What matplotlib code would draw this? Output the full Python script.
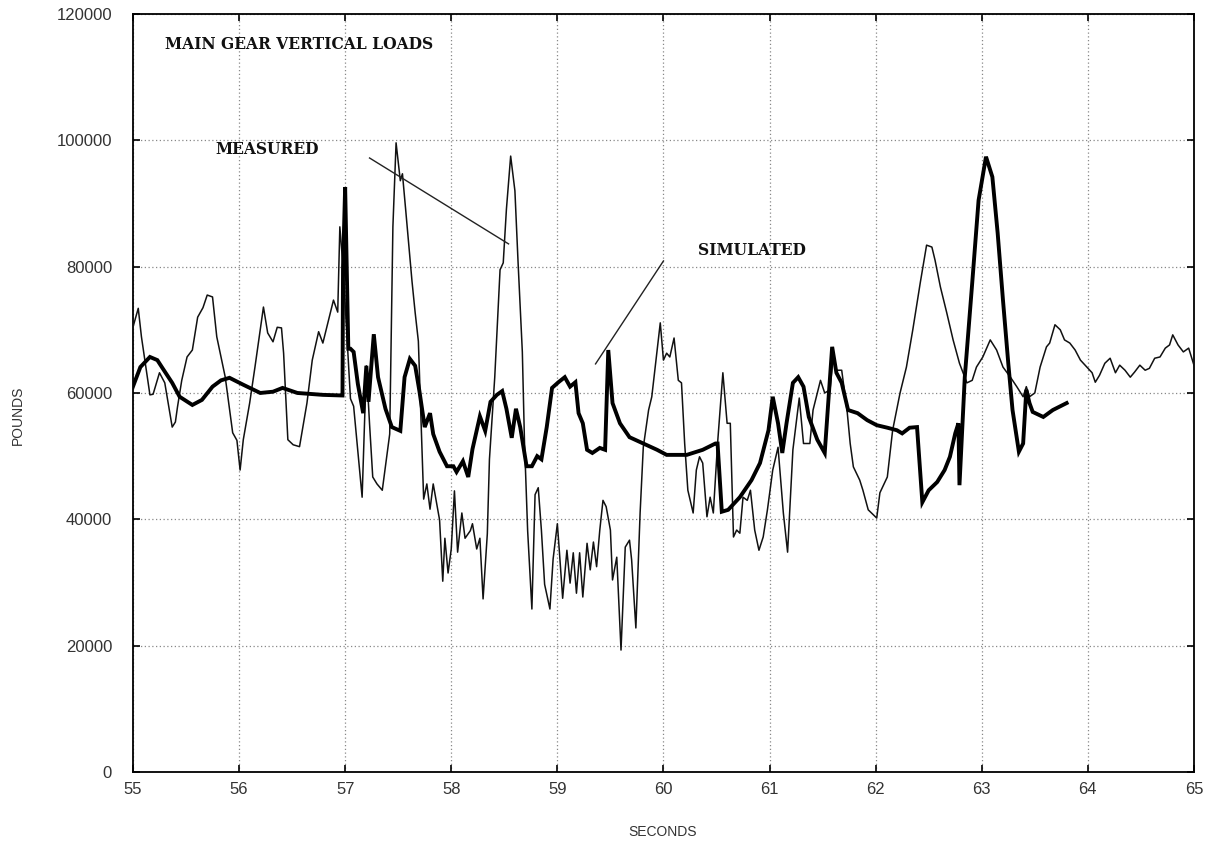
import matplotlib
matplotlib.use("Agg")
import matplotlib.pyplot as plt

# Measured main gear vertical load (seconds, thousands of pounds)
meas_t = [55.00, 55.05, 55.08, 55.16, 55.19, 55.25, 55.30, 55.37, 55.40, 55.42, 55.46, 55.51,
          55.56, 55.61, 55.66, 55.70, 55.75, 55.79, 55.87, 55.94, 55.98, 56.01, 56.04, 56.10,
          56.15, 56.23, 56.27, 56.32, 56.36, 56.40, 56.42, 56.46, 56.51, 56.57, 56.64, 56.69,
          56.75, 56.79, 56.85, 56.89, 56.93, 56.95, 56.98, 57.05, 57.08, 57.16, 57.20, 57.23,
          57.26, 57.30, 57.35, 57.38, 57.42, 57.45, 57.48, 57.52, 57.54, 57.57, 57.63, 57.66,
          57.69, 57.74, 57.77, 57.80, 57.83, 57.86, 57.89, 57.92, 57.94, 57.97, 58.00, 58.03,
          58.06, 58.10, 58.13, 58.18, 58.20, 58.24, 58.27, 58.30, 58.34, 58.36, 58.41, 58.46,
          58.49, 58.52, 58.56, 58.60, 58.63, 58.67, 58.69, 58.72, 58.76, 58.79, 58.82, 58.85,
          58.88, 58.93, 58.96, 59.00, 59.02, 59.05, 59.09, 59.12, 59.15, 59.18, 59.21, 59.24,
          59.28, 59.31, 59.34, 59.37, 59.40, 59.43, 59.46, 59.50, 59.52, 59.56, 59.60, 59.64,
          59.68, 59.70, 59.74, 59.78, 59.81, 59.86, 59.89, 59.94, 59.97, 60.00, 60.03, 60.06,
          60.10, 60.14, 60.17, 60.20, 60.23, 60.28, 60.31, 60.34, 60.37, 60.41, 60.44, 60.47,
          60.51, 60.56, 60.60, 60.63, 60.66, 60.69, 60.72, 60.75, 60.79, 60.82, 60.86, 60.90,
          60.94, 60.98, 61.03, 61.08, 61.13, 61.17, 61.22, 61.28, 61.32, 61.38, 61.41, 61.48,
          61.52, 61.57, 61.60, 61.63, 61.68, 61.73, 61.76, 61.79, 61.85, 61.88, 61.93, 62.01,
          62.04, 62.11, 62.16, 62.23, 62.29, 62.35, 62.42, 62.48, 62.53, 62.56, 62.61, 62.67,
          62.73, 62.79, 62.86, 62.91, 62.95, 63.01, 63.08, 63.14, 63.20, 63.27, 63.33, 63.39,
          63.42, 63.45, 63.50, 63.55, 63.61, 63.64, 63.69, 63.74, 63.78, 63.83, 63.88, 63.93,
          63.99, 64.04, 64.07, 64.11, 64.16, 64.21, 64.26, 64.30, 64.35, 64.40, 64.44, 64.49,
          64.54, 64.58, 64.63, 64.68, 64.73, 64.77, 64.80, 64.85, 64.90, 64.95, 65.00]
meas_k = [70.4, 73.4, 68.9, 59.7, 59.8, 63.2, 61.6, 54.6, 55.4, 57.8, 62.0, 65.7,
          66.8, 72.0, 73.5, 75.5, 75.2, 68.9, 62.5, 53.7, 52.5, 47.8, 52.6, 58.4,
          64.1, 73.6, 69.5, 68.1, 70.4, 70.3, 66.3, 52.6, 51.8, 51.5, 58.4, 65.2,
          69.7, 67.9, 72.0, 74.7, 72.8, 86.3, 80.0, 59.1, 57.9, 43.5, 64.3, 55.1,
          46.7, 45.6, 44.6, 48.4, 53.5, 86.3, 99.6, 93.6, 94.7, 89.1, 77.7, 72.7,
          68.2, 43.2, 45.6, 41.6, 45.6, 42.7, 39.9, 30.2, 37.0, 31.5, 35.3, 44.5,
          34.8, 41.0, 37.0, 38.2, 39.3, 35.3, 37.0, 27.4, 37.7, 49.5, 62.5, 79.5,
          80.6, 89.1, 97.5, 92.0, 80.6, 66.5, 52.4, 38.2, 25.8, 43.9, 45.0, 38.2,
          29.7, 25.8, 33.7, 39.3, 34.7, 27.5, 35.1, 29.9, 34.7, 28.3, 34.7, 27.7,
          36.2, 32.0, 36.4, 32.5, 38.3, 43.0, 42.0, 38.3, 30.4, 34.0, 19.3, 35.6,
          36.7, 33.6, 22.8, 41.0, 51.4, 57.3, 59.4, 66.8, 71.1, 65.2, 66.3, 65.7,
          68.7, 62.0, 61.6, 52.0, 44.6, 41.0, 47.8, 49.9, 48.9, 40.4, 43.5, 41.0,
          52.0, 63.2, 55.2, 55.2, 37.2, 38.3, 37.8, 43.5, 43.0, 44.6, 38.3, 35.1,
          37.2, 41.5, 47.8, 51.4, 41.0, 34.8, 51.0, 59.2, 52.0, 52.0, 57.3, 62.0,
          60.0, 60.5, 65.7, 63.6, 63.6, 57.3, 52.0, 48.3, 46.2, 44.6, 41.5, 40.2,
          44.2, 46.7, 54.1, 60.0, 64.1, 70.0, 77.4, 83.4, 83.1, 81.0, 76.8, 72.7,
          68.4, 64.7, 61.6, 62.0, 64.1, 65.7, 68.4, 66.8, 64.1, 62.5, 61.0, 59.4,
          61.0, 59.4, 60.0, 64.1, 67.3, 67.9, 70.8, 70.0, 68.4, 67.9, 66.8, 65.2,
          64.1, 63.2, 61.7, 62.8, 64.7, 65.5, 63.2, 64.4, 63.6, 62.5, 63.3, 64.4,
          63.6, 63.9, 65.5, 65.7, 67.1, 67.6, 69.2, 67.6, 66.5, 67.1, 64.4]

# Simulated main gear vertical load (seconds, thousands of pounds)
sim_t = [55.00, 55.07, 55.16, 55.23, 55.28, 55.37, 55.44, 55.56, 55.65, 55.75, 55.83, 55.91,
         56.04, 56.20, 56.32, 56.41, 56.55, 56.79, 56.975, 56.98, 57.00, 57.03, 57.05, 57.08,
         57.12, 57.17, 57.20, 57.22, 57.27, 57.31, 57.38, 57.44, 57.52, 57.56, 57.61, 57.66,
         57.70, 57.75, 57.80, 57.83, 57.89, 57.96, 58.02, 58.05, 58.11, 58.16, 58.20, 58.27,
         58.32, 58.37, 58.43, 58.48, 58.52, 58.57, 58.61, 58.65, 58.71, 58.76, 58.81, 58.85,
         58.90, 58.95, 59.01, 59.07, 59.12, 59.17, 59.20, 59.24, 59.28, 59.33, 59.40, 59.45,
         59.48, 59.52, 59.59, 59.68, 59.81, 59.94, 60.03, 60.22, 60.37, 60.49, 60.51, 60.55,
         60.61, 60.72, 60.83, 60.91, 60.99, 61.03, 61.08, 61.12, 61.16, 61.22, 61.27, 61.32,
         61.37, 61.45, 61.52, 61.59, 61.63, 61.68, 61.74, 61.83, 61.92, 62.01, 62.11, 62.20,
         62.25, 62.32, 62.39, 62.44, 62.50, 62.58, 62.65, 62.70, 62.75, 62.78, 62.79, 62.84,
         62.91, 62.97, 63.04, 63.10, 63.15, 63.20, 63.25, 63.29, 63.35, 63.39, 63.42, 63.45,
         63.48, 63.58, 63.67, 63.80]
sim_k = [61.0, 64.1, 65.7, 65.2, 63.9, 61.6, 59.4, 58.1, 58.9, 61.0, 62.0, 62.4,
         61.3, 60.0, 60.2, 60.8, 60.0, 59.7, 59.6, 80.0, 92.6, 67.0, 67.0, 66.5,
         61.4, 56.8, 64.3, 58.6, 69.3, 62.5, 57.5, 54.6, 54.0, 62.5, 65.4, 64.3,
         60.3, 54.6, 56.8, 53.5, 50.7, 48.4, 48.4, 47.5, 49.2, 46.7, 51.1, 56.3,
         54.0, 58.6, 59.7, 60.3, 57.5, 52.9, 57.5, 54.6, 48.4, 48.4, 50.0, 49.5,
         54.6, 60.8, 61.7, 62.5, 61.0, 61.7, 56.8, 55.2, 51.0, 50.5, 51.3, 51.0,
         66.8, 58.4, 55.2, 53.0, 52.0, 51.0, 50.2, 50.2, 51.0, 52.0, 52.0, 41.2,
         41.5, 43.5, 46.2, 48.9, 54.1, 59.4, 55.2, 50.5, 55.2, 61.6, 62.5, 61.0,
         56.2, 52.6, 50.5, 67.3, 63.2, 61.6, 57.3, 56.8, 55.7, 54.9, 54.5, 54.1,
         53.6, 54.5, 54.6, 42.7, 44.6, 45.9, 47.8, 49.9, 53.6, 55.2, 45.4, 62.5,
         77.4, 90.5, 97.4, 94.2, 85.3, 74.7, 64.7, 57.3, 50.7, 52.0, 60.5, 58.4,
         57.0, 56.2, 57.3, 58.4]

x_ticks = [55, 56, 57, 58, 59, 60, 61, 62, 63, 64, 65]
y_ticks = [0, 20000, 40000, 60000, 80000, 100000, 120000]

title_text = "MAIN GEAR VERTICAL LOADS"
measured_text = "MEASURED"
simulated_text = "SIMULATED"

fig = plt.figure(figsize=(12.13, 8.46), dpi=100)
ax = fig.add_axes([0.1096, 0.0875, 0.8747, 0.896])

ax.plot(meas_t, [v * 1000 for v in meas_k], color="#111111", lw=1.1, zorder=3)
ax.plot(sim_t, [v * 1000 for v in sim_k], color="black", lw=2.8, zorder=4,
        solid_joinstyle="miter")

# pointer lines
ax.plot([57.23, 58.54], [97200, 83600], color="#222222", lw=1.0, zorder=5)
ax.plot([59.36, 60.0], [64600, 80900], color="#222222", lw=1.0, zorder=5)

serif = dict(family="DejaVu Serif", fontweight="bold", fontsize=11.2, color="#111111")
ax.text(55.30, 115100, title_text, va="center", ha="left", **serif)
ax.text(55.78, 98600, measured_text, va="center", ha="left", **serif)
ax.text(60.33, 82600, simulated_text, va="center", ha="left", **serif)

ax.set_xlim(55, 65)
ax.set_ylim(0, 120000)
ax.set_xticks(x_ticks)
ax.set_yticks(y_ticks)
ax.set_xticklabels([str(t) for t in x_ticks])
ax.set_yticklabels([str(t) for t in y_ticks])

ax.grid(True, linestyle=(0, (1, 2)), color="#888888", lw=0.9)
ax.tick_params(direction="in", top=True, right=True, length=5, width=1.2,
               labelsize=12, colors="black")
ax.tick_params(axis="y", pad=15)
ax.tick_params(axis="x", pad=7)
for lab in ax.get_xticklabels() + ax.get_yticklabels():
    lab.set_family("Liberation Sans")
    lab.set_color("#333333")
for s in ax.spines.values():
    s.set_linewidth(1.3)

fig.text(18 / 1213, 1 - 415 / 846, "POUNDS", rotation=90, ha="center", va="center",
         fontsize=10, family="Liberation Sans", color="#333333")
fig.text(663 / 1213, 1 - 832 / 846, "SECONDS", ha="center", va="center",
         fontsize=10, family="Liberation Sans", color="#333333")

fig.savefig("out.png", dpi=100)
